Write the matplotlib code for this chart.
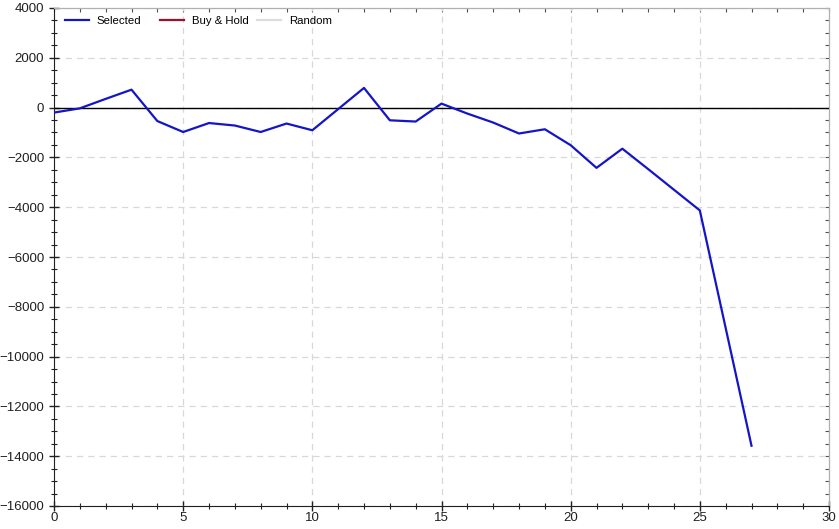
import matplotlib
matplotlib.use("Agg")
import matplotlib.pyplot as plt
from matplotlib.legend import Legend
from matplotlib.ticker import MultipleLocator

plt.rcParams['font.family'] = ['Liberation Sans', 'DejaVu Sans']

# equity curve of the selected strategy (trade number vs profit)
trades = list(range(28))
selected = [-200, -30, 350, 720, -540, -980, -620, -720, -980, -640,
            -910, -60, 790, -510, -560, 160, -240, -600, -1040, -870,
            -1510, -2420, -1650, -2470, -3300, -4130, -8850, -13580]

series_names = ['Selected', 'Buy & Hold', 'Random']
series_colors = ['#1515c8', '#a0102a', '#dcdcdc']

fig = plt.figure(figsize=(8.39, 5.29), dpi=100)
ax = fig.add_axes([54 / 839, 23 / 529, 775 / 839, 498 / 529])

ax.plot(trades, selected, color=series_colors[0], lw=1.6, zorder=3)
ax.axhline(0, color='black', lw=1.0, zorder=2)

ax.set_xlim(0, 30)
ax.set_ylim(-16000, 4000)
ax.xaxis.set_major_locator(MultipleLocator(5))
ax.xaxis.set_minor_locator(MultipleLocator(1))
ax.yaxis.set_major_locator(MultipleLocator(2000))
ax.yaxis.set_minor_locator(MultipleLocator(500))

ax.grid(True, which='major', color='#d8d8d8', ls=(0, (5, 4)), lw=0.9)

for side in ('top', 'right'):
    ax.spines[side].set_color('#b0b0b0')
for side in ('left', 'bottom'):
    ax.spines[side].set_color('#202020')

ax.tick_params(which='both', direction='inout', colors='#202020',
               labelsize=9.5)
ax.tick_params(which='major', length=7, width=1.0)
ax.tick_params(which='minor', length=5, width=0.8)
ax.tick_params(axis='x', pad=1)

# inward ticks on the top and right frame, no labels
top = ax.secondary_xaxis('top')
top.xaxis.set_major_locator(MultipleLocator(5))
top.xaxis.set_minor_locator(MultipleLocator(1))
top.tick_params(which='both', direction='in', colors='#505050',
                labeltop=False, length=3, width=0.8)
top.spines['top'].set_color('#b0b0b0')

right = ax.secondary_yaxis('right')
right.yaxis.set_major_locator(MultipleLocator(2000))
right.yaxis.set_minor_locator(MultipleLocator(500))
right.tick_params(which='both', direction='in', colors='#505050',
                  labelright=False, length=3, width=0.8)
right.spines['right'].set_color('#b0b0b0')

# legend with fixed-width columns, one small legend per entry
col_starts = [0.0142, 0.137, 0.262]
for name, color, x0 in zip(series_names, series_colors, col_starts):
    h, = ax.plot([], [], color=color, lw=1.6)
    leg = Legend(ax, [h], [name], loc='upper left', frameon=False,
                 fontsize=8.2, bbox_to_anchor=(x0, 0.984), borderpad=0,
                 borderaxespad=0, handlelength=2.1, handletextpad=0.7)
    ax.add_artist(leg)

fig.savefig('out.png', dpi=100)
